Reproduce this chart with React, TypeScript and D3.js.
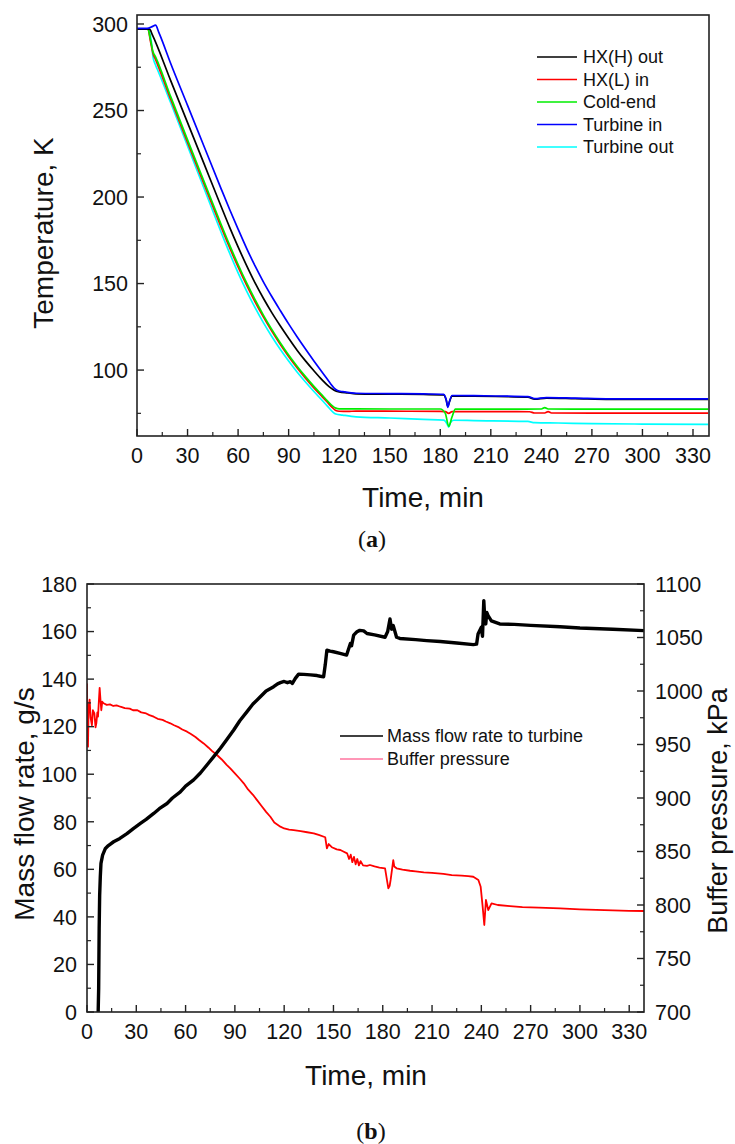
import React from "react";
import * as d3 from "d3";

type P = [number, number];

// ---------- (a) Temperature data ----------
const hxHOut: P[] = [[0,297],[7.5,297],[9,294],[20,267.3],[30,243],[40,218.7],[50,194.4],[55,182.5],[60,171.2],[65,160.5],[70,150.5],[75,141.5],[80,133.2],[85,125.6],[90,118.4],[95,111.5],[100,105.3],[105,99.6],[110,94.2],[114,90.4],[117,88.4],[120,87.4],[125,86.8],[130,86.3],[150,86.1],[170,85.9],[182,85.7],[183.5,82.8],[184.5,79],[185.5,81.8],[187,85],[200,84.9],[220,84.6],[232,84.4],[236,83.2],[243,83.8],[260,83.5],[281,83.1],[300,83.1],[339,83]];
const hxLIn: P[] = [[0,297],[6.5,297],[8,290],[9.5,283],[11,279.5],[20,256.5],[30,231.5],[40,207],[50,182.5],[55,170.7],[60,159.6],[65,149.2],[70,139.6],[75,130.7],[80,122.5],[85,114.9],[90,107.8],[95,101.3],[100,95.3],[105,89.7],[110,84.5],[113,81.4],[116,78.3],[118,76.6],[120,76.2],[125,76.1],[130,76.3],[160,76.2],[180,76.1],[183,76],[185,75],[187,76],[210,76],[233,75.9],[236,75.2],[242,75.2],[244,76],[246,75.2],[270,75.1],[300,75.1],[339,75.1]];
const coldEnd: P[] = [[0,297],[6.5,297],[8,291],[9.5,284],[11,281],[20,258],[30,233],[40,208.5],[50,184],[55,172.2],[60,161],[65,150.5],[70,140.8],[75,131.8],[80,123.5],[85,115.8],[90,108.7],[95,102.2],[100,96.2],[105,90.6],[110,85.4],[113,82.2],[116,79.3],[118,78],[120,77.6],[130,77.6],[150,77.5],[180,77.5],[183,75],[185,67.5],[187,73],[189,77.4],[210,77.4],[240,77.5],[242,78.3],[244,77.5],[270,77.4],[300,77.4],[339,77.4]];
const turbineIn: P[] = [[0,297.5],[6,297.5],[9,298.5],[11,299.3],[13,295],[20,277.2],[30,253],[40,228.8],[50,204.6],[55,192.8],[60,181.5],[65,170.5],[70,160.3],[75,151],[80,142.5],[85,134.5],[90,126.7],[95,119.3],[100,112.2],[105,105.3],[108.5,100.6],[112,96],[115,92],[117,89.6],[119,88.2],[122,87.5],[126,87],[130,86.6],[150,86.4],[170,86.2],[182,86],[183.5,83],[184.5,78.5],[185.5,82],[187,85.3],[200,85.2],[220,84.9],[232,84.7],[236,83.5],[243,84.1],[260,83.8],[281,83.4],[300,83.4],[339,83.3]];
const turbineOut: P[] = [[0,297],[7,297],[8.5,290],[9.5,281],[10.7,277],[12,274],[20,254.5],[30,229.5],[40,204.5],[50,179.5],[55,167.5],[60,156.2],[65,145.8],[70,136.2],[75,127.4],[80,119.4],[85,112],[90,105.2],[95,98.9],[100,93.1],[105,87.6],[110,82.4],[113,79.2],[116,76],[118,74.6],[122,74],[130,73],[150,72.3],[170,71.5],[182,71.1],[184,69],[185,67],[186,69.5],[188,71],[200,70.8],[232,70.3],[236,69.6],[250,69.4],[270,69],[300,68.8],[339,68.6]];

const tempSeries = [
  { name: "HX(H) out", color: "#000000", data: hxHOut },
  { name: "HX(L) in", color: "#ff0000", data: hxLIn },
  { name: "Cold-end", color: "#00ee00", data: coldEnd },
  { name: "Turbine in", color: "#0000ff", data: turbineIn },
  { name: "Turbine out", color: "#00ffff", data: turbineOut },
];
const drawOrder = [4, 1, 2, 0, 3];

const timeTicks = [0, 30, 60, 90, 120, 150, 180, 210, 240, 270, 300, 330];
const timeMinor = [15, 45, 75, 105, 135, 165, 195, 225, 255, 285, 315];
const tempTicks = [100, 150, 200, 250, 300];
const tempMinor = [75, 125, 175, 225, 275];

// ---------- (b) Flow / pressure data ----------
const massFlow: P[] = [[6.8,0],[7.1,10],[7.4,35],[7.7,49],[8.1,57],[8.5,62.5],[9.5,66],[11.2,68.8],[13,70],[16.2,71.6],[20,73],[24.3,75],[28,77],[32.5,79.3],[36,81],[40.6,83.5],[44,85.5],[48.7,87.7],[52,90],[56.8,92.6],[60,95],[64.9,97.6],[69,100.5],[73,103.9],[77,107.3],[81.2,110.9],[85,114.5],[89.3,118.6],[93,122.5],[97.4,126.3],[101,129.5],[105.5,132.6],[109,135],[113.6,136.8],[116,138],[117.7,138.5],[120,139],[122,138.5],[123.8,138.9],[125,138.2],[126.8,140.3],[128.8,142.1],[132,142],[136,141.8],[140,141.5],[142,141.2],[144,141],[145,146],[146,152.2],[148,151.8],[150,151.5],[154,150.8],[158,150.1],[160.3,155],[161,154],[162.3,158.5],[164.3,159.9],[166,160.5],[168.4,160.3],[170.4,159.2],[175,158.6],[181.4,157.6],[183,160],[184.4,165.3],[185.4,161],[186.4,162.5],[188.4,157.6],[190.4,157.1],[200,156.6],[206.7,156.2],[215,155.8],[225,155.2],[235.1,154.5],[237.1,154.7],[238,159],[240,161.8],[240.7,158],[241.5,173],[242.1,165],[242.7,163.2],[243.3,168],[244.1,166.7],[246.1,164.5],[251.2,163.2],[260,163],[270,162.6],[287.9,162],[300,161.5],[320,161],[339,160.4]];
const bufferPressure: P[] = [[0,1007],[0.3,960],[0.6,948],[1,985],[1.6,992],[2.2,975],[3,968],[3.6,982],[4.5,979],[5.2,966],[5.7,970],[6.3,980],[6.7,976],[7.2,990],[7.7,1003],[8.2,992],[8.7,982],[9.3,990],[10.1,988.5],[12,987],[14,987.5],[16,986],[18,986.5],[20.3,985.3],[23,984],[26,983.5],[28,982],[30.4,982.2],[33,980],[36,979],[38,977.5],[40.6,976],[43,974],[46,973],[48,971.5],[50.7,969.8],[53,968],[56,966],[58,964],[60.9,962],[63,960],[66,957],[68,954.5],[71,951],[74,947],[76,944],[79.1,940.2],[82,936],[85,931],[87.2,927.7],[90,923],[93,918],[95.4,913.7],[98,908],[101,903],[103.5,898],[106,893],[109,887],[111.6,882.5],[114,877],[117.7,873.2],[120,871.5],[123,870.5],[125.8,870],[130,869],[134,868],[138,867],[141,865.5],[145,863.3],[146,853],[147.1,857],[149,854],[152,852],[154.2,851.4],[156,850],[158.3,848.3],[159.5,843],[160.5,847],[161.5,840],[162.5,845],[163.5,838],[164.5,843],[165.5,837],[166.5,841],[168,837],[170.4,836.5],[172.2,837.4],[175,836],[178,835],[181.4,834.3],[183.4,815.6],[184.2,818],[184.8,823.4],[186.4,842],[187,836],[188.4,834.3],[192,833],[196.6,832],[200,831.5],[205,830.5],[210,830],[216.9,829],[222,828],[228,827.5],[232,827],[235.1,826.4],[238.2,823.4],[239.6,817],[240.8,798.4],[241.8,781.3],[242.8,804.7],[244.2,795.3],[246.2,801.6],[250,800],[257.4,799],[265,798],[275,797.5],[287.9,796.9],[300,796],[310,795.5],[320,795],[330,794.5],[339,794.4]];

const flowTicks = [0, 20, 40, 60, 80, 100, 120, 140, 160, 180];
const flowMinor = [10, 30, 50, 70, 90, 110, 130, 150, 170];
const pressTicks = [700, 750, 800, 850, 900, 950, 1000, 1050, 1100];
const pressMinor = [725, 775, 825, 875, 925, 975, 1025, 1075];

const FONT = "'Liberation Sans', Arial, Helvetica, sans-serif";
const AXIS = "#222";

export default function App() {
  // chart (a)
  const a = { l: 137, t: 15, r: 709, b: 436 };
  const xA = d3.scaleLinear().domain([0, 339.5]).range([a.l, a.r]);
  const yA = d3.scaleLinear().domain([61.9, 305.2]).range([a.b, a.t]);
  const lineA = d3.line<P>().x((d) => xA(d[0])).y((d) => yA(d[1])).curve(d3.curveMonotoneX);

  // chart (b)
  const b = { l: 87, t: 584, r: 644, b: 1012 };
  const xB = d3.scaleLinear().domain([0, 339]).range([b.l, b.r]);
  const yB = d3.scaleLinear().domain([0, 180]).range([b.b, b.t]);
  const yP = d3.scaleLinear().domain([700, 1100]).range([b.b, b.t]);
  const lineFlow = d3.line<P>().x((d) => xB(d[0])).y((d) => yB(d[1]));
  const linePress = d3.line<P>().x((d) => xB(d[0])).y((d) => yP(d[1]));

  const MAJ = 7, MIN = 4;
  const tickFs = 21.5;

  return (
    <svg width={735} height={1144} style={{ position: "absolute", left: 0, top: 0, background: "#fff" }} fontFamily={FONT}>
      <rect x={0} y={0} width={735} height={1144} fill="#fff" />
      <defs>
        <clipPath id="clipA"><rect x={a.l} y={a.t} width={a.r - a.l} height={a.b - a.t} /></clipPath>
        <clipPath id="clipB"><rect x={b.l} y={b.t} width={b.r - b.l} height={b.b - b.t} /></clipPath>
      </defs>
      {/* ===== Chart (a) ===== */}
      <g clipPath="url(#clipA)">
        {drawOrder.map((i) => (
          <path key={i} d={lineA(tempSeries[i].data) || ""} fill="none" stroke={tempSeries[i].color} strokeWidth={1.7} strokeLinejoin="round" />
        ))}
      </g>
      <rect x={a.l} y={a.t} width={a.r - a.l} height={a.b - a.t} fill="none" stroke={AXIS} strokeWidth={1.6} />
      {timeTicks.map((t) => (
        <g key={"ax" + t}>
          <line x1={xA(t)} x2={xA(t)} y1={a.b} y2={a.b - MAJ} stroke={AXIS} strokeWidth={1.4} />
          <text x={xA(t)} y={a.b + 26.5} fontSize={tickFs} textAnchor="middle" fill="#111">{t}</text>
        </g>
      ))}
      {timeMinor.map((t) => (
        <line key={"axm" + t} x1={xA(t)} x2={xA(t)} y1={a.b} y2={a.b - MIN} stroke={AXIS} strokeWidth={1.2} />
      ))}
      {tempTicks.map((v) => (
        <g key={"ay" + v}>
          <line x1={a.l} x2={a.l + MAJ} y1={yA(v)} y2={yA(v)} stroke={AXIS} strokeWidth={1.4} />
          <text x={a.l - 9} y={yA(v)} dy="0.36em" fontSize={tickFs} textAnchor="end" fill="#111">{v}</text>
        </g>
      ))}
      {tempMinor.map((v) => (
        <line key={"aym" + v} x1={a.l} x2={a.l + MIN} y1={yA(v)} y2={yA(v)} stroke={AXIS} strokeWidth={1.2} />
      ))}
      <text x={(a.l + a.r) / 2} y={a.b + 71} fontSize={28} textAnchor="middle" fill="#111">Time, min</text>
      <text transform={`translate(53,233) rotate(-90)`} fontSize={28} textAnchor="middle" fill="#111">Temperature, K</text>
      {tempSeries.map((s, i) => (
        <g key={"leg" + i}>
          <line x1={537} x2={577} y1={57 + i * 22.5} y2={57 + i * 22.5} stroke={s.color} strokeWidth={1.6} />
          <text x={583} y={57 + i * 22.5} dy="0.36em" fontSize={18} fill="#111">{s.name}</text>
        </g>
      ))}
      <text x={372} y={547} fontSize={24} textAnchor="middle" fontFamily="'Liberation Serif', 'Times New Roman', serif" fill="#111">
        (<tspan fontWeight="bold">a</tspan>)
      </text>

      {/* ===== Chart (b) ===== */}
      <g clipPath="url(#clipB)">
        <path d={linePress(bufferPressure) || ""} fill="none" stroke="#ff0000" strokeWidth={1.8} strokeLinejoin="round" />
        <path d={lineFlow(massFlow) || ""} fill="none" stroke="#000" strokeWidth={3.4} strokeLinejoin="round" />
      </g>
      <rect x={b.l} y={b.t} width={b.r - b.l} height={b.b - b.t} fill="none" stroke={AXIS} strokeWidth={1.6} />
      {timeTicks.map((t) => (
        <g key={"bx" + t}>
          <line x1={xB(t)} x2={xB(t)} y1={b.b} y2={b.b - MAJ} stroke={AXIS} strokeWidth={1.4} />
          <text x={xB(t)} y={b.b + 26.5} fontSize={tickFs} textAnchor="middle" fill="#111">{t}</text>
        </g>
      ))}
      {timeMinor.map((t) => (
        <line key={"bxm" + t} x1={xB(t)} x2={xB(t)} y1={b.b} y2={b.b - MIN} stroke={AXIS} strokeWidth={1.2} />
      ))}
      {flowTicks.map((v) => (
        <g key={"by" + v}>
          <line x1={b.l} x2={b.l + MAJ} y1={yB(v)} y2={yB(v)} stroke={AXIS} strokeWidth={1.4} />
          <text x={b.l - 10} y={yB(v)} dy="0.36em" fontSize={tickFs} textAnchor="end" fill="#111">{v}</text>
        </g>
      ))}
      {flowMinor.map((v) => (
        <line key={"bym" + v} x1={b.l} x2={b.l + MIN} y1={yB(v)} y2={yB(v)} stroke={AXIS} strokeWidth={1.2} />
      ))}
      {pressTicks.map((v) => (
        <g key={"bp" + v}>
          <line x1={b.r} x2={b.r - MAJ} y1={yP(v)} y2={yP(v)} stroke={AXIS} strokeWidth={1.4} />
          <text x={b.r + 11} y={yP(v)} dy="0.36em" fontSize={tickFs} textAnchor="start" fill="#111">{v}</text>
        </g>
      ))}
      {pressMinor.map((v) => (
        <line key={"bpm" + v} x1={b.r} x2={b.r - MIN} y1={yP(v)} y2={yP(v)} stroke={AXIS} strokeWidth={1.2} />
      ))}
      <text x={366} y={b.b + 73} fontSize={28} textAnchor="middle" fill="#111">Time, min</text>
      <text transform={`translate(34,804) rotate(-90)`} fontSize={28} textAnchor="middle" fill="#111">Mass flow rate, g/s</text>
      <text transform={`translate(727,811) rotate(-90)`} fontSize={27} textAnchor="middle" fill="#111">Buffer pressure, kPa</text>
      <line x1={340} x2={383} y1={736} y2={736} stroke="#000" strokeWidth={1.6} />
      <text x={387} y={736} dy="0.36em" fontSize={18} fill="#111">Mass flow rate to turbine</text>
      <line x1={340} x2={383} y1={759} y2={759} stroke="#ff3070" strokeWidth={1.2} />
      <text x={387} y={759} dy="0.36em" fontSize={18} fill="#111">Buffer pressure</text>
      <text x={371} y={1139} fontSize={24} textAnchor="middle" fontFamily="'Liberation Serif', 'Times New Roman', serif" fill="#111">
        (<tspan fontWeight="bold">b</tspan>)
      </text>
    </svg>
  );
}
